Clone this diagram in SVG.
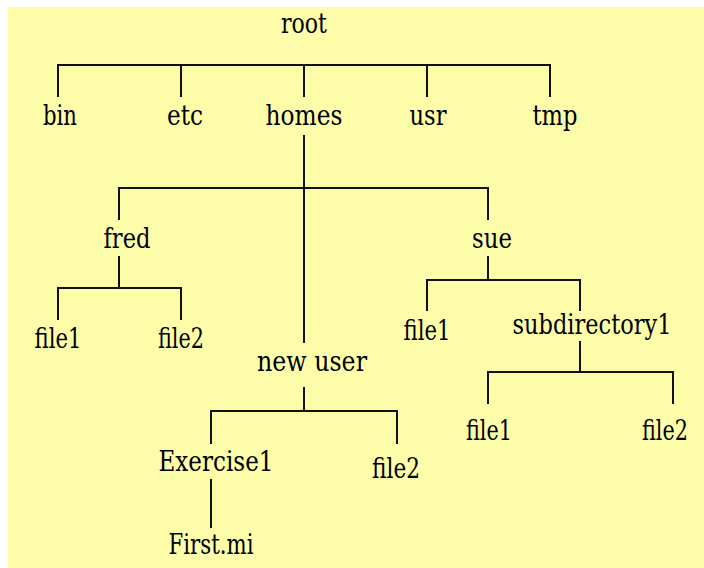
<svg xmlns="http://www.w3.org/2000/svg" width="704" height="568" viewBox="0 0 704 568">
<style>
.bg{fill:#FDFDA9}
.ln{stroke:#111;stroke-width:2;fill:none;stroke-linecap:square}
.t{font-family:'DejaVu Serif','Liberation Serif','Times New Roman',serif;font-size:27px;fill:#000;text-anchor:middle}
</style>
<rect x="0" y="0" width="704" height="568" fill="#ffffff"/>
<rect class="bg" x="8" y="7" width="696" height="561"/>
<g id="connectors">
<path class="ln" d="M58,65 H550 M58,65 V96 M181,65 V96 M304,65 V96 M427,65 V96 M550,65 V96"/>
<path class="ln" d="M304,136 V342 M119,188 H488 M119,188 V219 M488,188 V219"/>
<path class="ln" d="M119,257 V288 M58,288 H181 M58,288 V319 M181,288 V319"/>
<path class="ln" d="M488,257 V280 M427,280 H580 M427,280 V310 M580,280 V310"/>
<path class="ln" d="M580,342 V372 M488,372 H673 M488,372 V403 M673,372 V403"/>
<path class="ln" d="M304,388 V411 M211,411 H397 M211,411 V443 M397,411 V443"/>
<path class="ln" d="M211,480 V527"/>
</g>
<g class="t">
<g id="n-root"><text x="304" y="33" textLength="46" lengthAdjust="spacingAndGlyphs">root</text></g>
<g id="n-bin"><text x="60" y="125" textLength="34" lengthAdjust="spacingAndGlyphs">bin</text></g>
<g id="n-etc"><text x="185" y="125" textLength="36" lengthAdjust="spacingAndGlyphs">etc</text></g>
<g id="n-homes"><text x="304" y="125" textLength="77" lengthAdjust="spacingAndGlyphs">homes</text></g>
<g id="n-usr"><text x="428" y="125" textLength="37" lengthAdjust="spacingAndGlyphs">usr</text></g>
<g id="n-tmp"><text x="555" y="125" textLength="45" lengthAdjust="spacingAndGlyphs">tmp</text></g>
<g id="n-fred"><text x="127" y="248" textLength="47" lengthAdjust="spacingAndGlyphs">fred</text></g>
<g id="n-sue"><text x="492" y="248" textLength="40" lengthAdjust="spacingAndGlyphs">sue</text></g>
<g id="n-fred-file1"><text x="58" y="348" textLength="47" lengthAdjust="spacingAndGlyphs">file1</text></g>
<g id="n-fred-file2"><text x="181" y="348" textLength="46" lengthAdjust="spacingAndGlyphs">file2</text></g>
<g id="n-sue-file1"><text x="427" y="340" textLength="47" lengthAdjust="spacingAndGlyphs">file1</text></g>
<g id="n-subdirectory1"><text x="592" y="334" textLength="159" lengthAdjust="spacingAndGlyphs">subdirectory1</text></g>
<g id="n-sub-file1"><text x="489" y="440" textLength="46" lengthAdjust="spacingAndGlyphs">file1</text></g>
<g id="n-sub-file2"><text x="665" y="440" textLength="46" lengthAdjust="spacingAndGlyphs">file2</text></g>
<g id="n-newuser"><text x="312" y="371" textLength="110" lengthAdjust="spacingAndGlyphs">new user</text></g>
<g id="n-exercise1"><text x="216" y="471" textLength="115" lengthAdjust="spacingAndGlyphs">Exercise1</text></g>
<g id="n-newuser-file2"><text x="396" y="478" textLength="48" lengthAdjust="spacingAndGlyphs">file2</text></g>
<g id="n-firstmi"><text x="211" y="554" textLength="85" lengthAdjust="spacingAndGlyphs">First.mi</text></g>
</g>
</svg>
